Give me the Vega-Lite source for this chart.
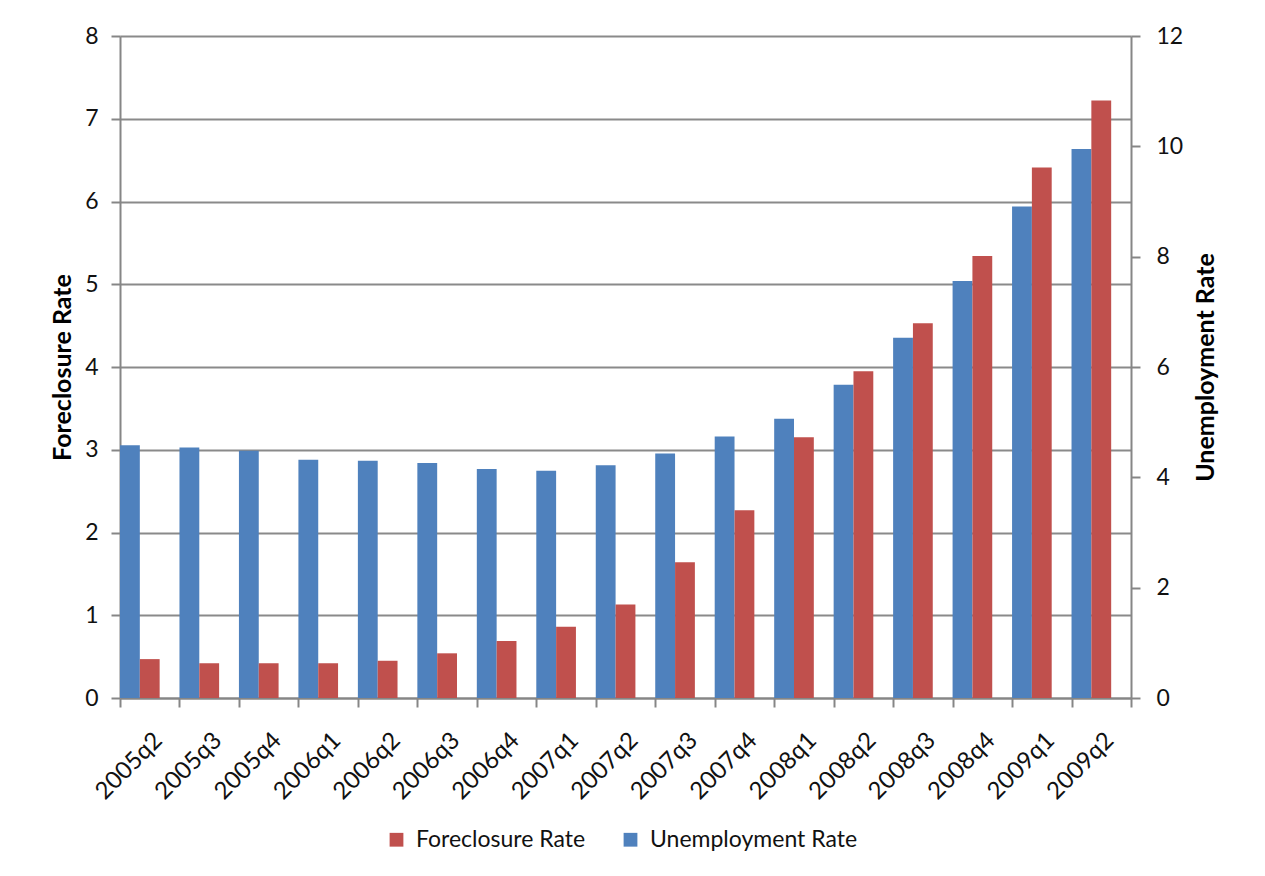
{
  "$schema": "https://vega.github.io/schema/vega-lite/v6.json",
  "autosize": "none",
  "width": 1011,
  "height": 662,
  "padding": {"left": 120, "top": 36, "right": 134, "bottom": 178},
  "background": "white",
  "config": {
    "font": "Lato",
    "view": {"stroke": null},
    "axis": {
      "domainColor": "#868686",
      "domainWidth": 2,
      "tickColor": "#868686",
      "tickWidth": 2,
      "tickSize": 9,
      "gridColor": "#8a8a8a",
      "gridWidth": 2,
      "labelFont": "Lato",
      "labelFontSize": 23,
      "labelColor": "#111111",
      "titleFont": "Lato",
      "titleFontSize": 25,
      "titleFontWeight": "bold",
      "titleColor": "#000000"
    }
  },
  "data": {
    "values": [
      {"quarter": "2005q2", "series": "Unemployment Rate", "value": 4.58},
      {"quarter": "2005q2", "series": "Foreclosure Rate", "value": 0.47},
      {"quarter": "2005q3", "series": "Unemployment Rate", "value": 4.54},
      {"quarter": "2005q3", "series": "Foreclosure Rate", "value": 0.42},
      {"quarter": "2005q4", "series": "Unemployment Rate", "value": 4.48},
      {"quarter": "2005q4", "series": "Foreclosure Rate", "value": 0.42},
      {"quarter": "2006q1", "series": "Unemployment Rate", "value": 4.32},
      {"quarter": "2006q1", "series": "Foreclosure Rate", "value": 0.42},
      {"quarter": "2006q2", "series": "Unemployment Rate", "value": 4.30},
      {"quarter": "2006q2", "series": "Foreclosure Rate", "value": 0.45},
      {"quarter": "2006q3", "series": "Unemployment Rate", "value": 4.26},
      {"quarter": "2006q3", "series": "Foreclosure Rate", "value": 0.54},
      {"quarter": "2006q4", "series": "Unemployment Rate", "value": 4.15},
      {"quarter": "2006q4", "series": "Foreclosure Rate", "value": 0.69},
      {"quarter": "2007q1", "series": "Unemployment Rate", "value": 4.12},
      {"quarter": "2007q1", "series": "Foreclosure Rate", "value": 0.86},
      {"quarter": "2007q2", "series": "Unemployment Rate", "value": 4.22},
      {"quarter": "2007q2", "series": "Foreclosure Rate", "value": 1.13},
      {"quarter": "2007q3", "series": "Unemployment Rate", "value": 4.43},
      {"quarter": "2007q3", "series": "Foreclosure Rate", "value": 1.64},
      {"quarter": "2007q4", "series": "Unemployment Rate", "value": 4.74},
      {"quarter": "2007q4", "series": "Foreclosure Rate", "value": 2.27},
      {"quarter": "2008q1", "series": "Unemployment Rate", "value": 5.06},
      {"quarter": "2008q1", "series": "Foreclosure Rate", "value": 3.15},
      {"quarter": "2008q2", "series": "Unemployment Rate", "value": 5.68},
      {"quarter": "2008q2", "series": "Foreclosure Rate", "value": 3.95},
      {"quarter": "2008q3", "series": "Unemployment Rate", "value": 6.53},
      {"quarter": "2008q3", "series": "Foreclosure Rate", "value": 4.53},
      {"quarter": "2008q4", "series": "Unemployment Rate", "value": 7.56},
      {"quarter": "2008q4", "series": "Foreclosure Rate", "value": 5.34},
      {"quarter": "2009q1", "series": "Unemployment Rate", "value": 8.91},
      {"quarter": "2009q1", "series": "Foreclosure Rate", "value": 6.41},
      {"quarter": "2009q2", "series": "Unemployment Rate", "value": 9.95},
      {"quarter": "2009q2", "series": "Foreclosure Rate", "value": 7.22}
    ]
  },
  "encoding": {
    "x": {
      "field": "quarter",
      "type": "nominal",
      "scale": {
        "domain": ["2005q2","2005q3","2005q4","2006q1","2006q2","2006q3","2006q4","2007q1","2007q2","2007q3","2007q4","2008q1","2008q2","2008q3","2008q4","2009q1","2009q2"],
        "paddingInner": 0,
        "paddingOuter": 0
      },
      "axis": {
        "title": null,
        "labelAngle": -45,
        "labelFontSize": 24,
        "tickBand": "extent",
        "labelPadding": 21,
        "grid": false
      }
    },
    "xOffset": {
      "field": "series",
      "type": "nominal",
      "scale": {"domain": ["Unemployment Rate", "Foreclosure Rate", "gap"], "paddingInner": 0, "paddingOuter": 0}
    },
    "color": {
      "field": "series",
      "type": "nominal",
      "scale": {"domain": ["Foreclosure Rate", "Unemployment Rate"], "range": ["#C0504D", "#4F81BD"]},
      "legend": {
        "title": null,
        "orient": "none",
        "direction": "horizontal",
        "legendX": 265,
        "legendY": 792,
        "labelFont": "Lato",
        "labelFontSize": 23,
        "labelColor": "#111111",
        "labelLimit": 400,
        "symbolType": "square",
        "symbolSize": 190,
        "symbolStrokeWidth": 0,
        "labelOffset": 8,
        "columnPadding": 33
      }
    }
  },
  "layer": [
    {
      "transform": [{"filter": "datum.series === 'Unemployment Rate'"}],
      "mark": {"type": "bar"},
      "encoding": {
        "y": {
          "field": "value",
          "type": "quantitative",
          "scale": {"domain": [0, 12], "nice": false},
          "axis": {
            "orient": "right",
            "title": "Unemployment Rate",
            "titleAngle": 270,
            "values": [0, 2, 4, 6, 8, 10, 12],
            "grid": false,
            "labelPadding": 16,
            "titlePadding": 36
          }
        }
      }
    },
    {
      "transform": [{"filter": "datum.series === 'Foreclosure Rate'"}],
      "mark": {"type": "bar"},
      "encoding": {
        "y": {
          "field": "value",
          "type": "quantitative",
          "scale": {"domain": [0, 8], "nice": false},
          "axis": {
            "orient": "left",
            "title": "Foreclosure Rate",
            "values": [0, 1, 2, 3, 4, 5, 6, 7, 8],
            "grid": true,
            "labelPadding": 13,
            "titlePadding": 9
          }
        }
      }
    }
  ],
  "resolve": {"scale": {"y": "independent"}}
}
